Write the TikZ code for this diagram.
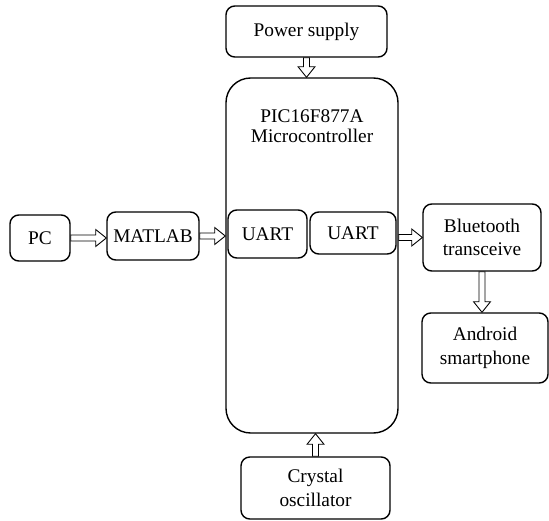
\documentclass[tikz,border=0pt]{standalone}
\usepackage{fontspec}
\setmainfont{Liberation Serif}
\usepackage{tikz}
\usetikzlibrary{calc}
\tikzset{%
    block/.style={%
        draw, line width=0.8pt, rounded corners=5pt, align=center,
        inner sep=0pt, font=\fontsize{11}{13.5}\selectfont
    },
    flow/.style={%
        draw, fill=white, line width=0.5pt, line join=miter
    }
}
% hollow block arrow from #1 to #2
\newcommand{\flowto}[2]{%
    \coordinate (fa) at #1;
    \coordinate (fb) at #2;
    \coordinate (fc) at ($(fb)!6pt!(fa)$);
    \draw[flow] ($(fa)!1.7pt!90:(fb)$) -- ($(fc)!1.7pt!-90:(fa)$) -- ($(fc)!4.8pt!-90:(fa)$)
        -- (fb) -- ($(fc)!4.8pt!90:(fa)$) -- ($(fc)!1.7pt!90:(fa)$) -- ($(fa)!1.7pt!-90:(fb)$) -- cycle;
}

\begin{document}
\begin{tikzpicture}
\useasboundingbox (0,0) rectangle (10.98,-10.40);

\node[block, minimum width=3.44cm, minimum height=7.10cm, rounded corners=14pt] (micro) at (6.24,-5.11) {};
\node[align=center, font=\fontsize{11}{11.5}\selectfont] (mictext) at (6.24,-2.52) {PIC16F877A\\Microcontroller};

\node[block, minimum width=3.22cm, minimum height=1.02cm] (power) at (6.13,-0.63) {Power supply};
\node[block, minimum width=1.20cm, minimum height=0.92cm] (pc) at (0.80,-4.76) {PC};
\node[block, minimum width=1.84cm, minimum height=0.96cm] (matlab) at (3.06,-4.72) {MATLAB};
\node[block, minimum width=1.58cm, minimum height=0.96cm] (uarta) at (5.35,-4.68) {UART};
\node[block, minimum width=1.72cm, minimum height=0.84cm] (uartb) at (7.06,-4.66) {UART};
\node[block, minimum width=2.36cm, minimum height=1.34cm] (bt) at (9.64,-4.75) {Bluetooth\\transceive};
\node[block, minimum width=2.52cm, minimum height=1.40cm] (android) at (9.70,-6.96) {Android\\smartphone};
\node[block, minimum width=2.98cm, minimum height=1.24cm] (crystal) at (6.31,-9.76) {Crystal\\oscillator};

\flowto{(power.south)}{(power.south |- micro.north)}
\flowto{(pc.east)}{(pc.east -| matlab.west)}
\flowto{(matlab.east)}{(matlab.east -| micro.west)}
\flowto{(micro.east |- bt.west)}{(bt.west)}
\flowto{(bt.south)}{(bt.south |- android.north)}
\flowto{(crystal.north)}{(crystal.north |- micro.south)}
\end{tikzpicture}
\end{document}
